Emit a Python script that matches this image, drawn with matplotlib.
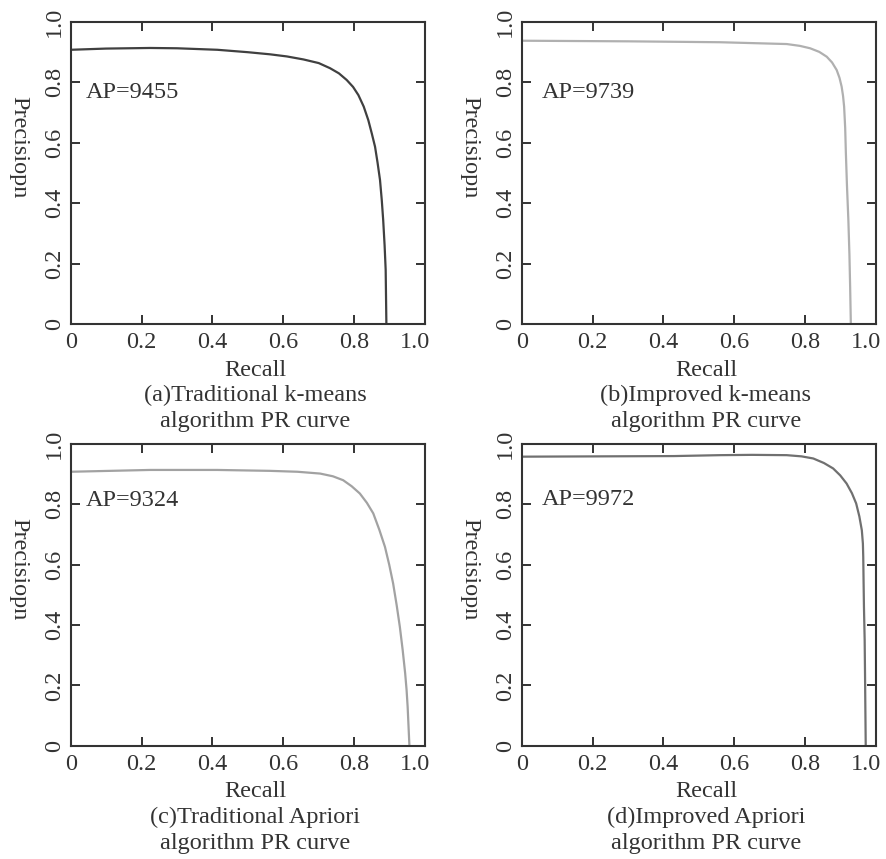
import matplotlib
matplotlib.use("Agg")
import matplotlib.pyplot as plt
import matplotlib.transforms as mtransforms

plt.rcParams['font.family'] = ['Liberation Serif', 'DejaVu Serif']

# ---- data ----
tick_vals = [0, 0.2, 0.4, 0.6, 0.8, 1.0]
tick_labels = ["0", "0.2", "0.4", "0.6", "0.8", "1.0"]

recall_a = [0.0, 0.10, 0.224, 0.30, 0.414, 0.50, 0.5625, 0.61, 0.657, 0.70, 0.732, 0.757, 0.779,
            0.797, 0.812, 0.827, 0.840, 0.850, 0.859, 0.866, 0.873, 0.878, 0.882, 0.886, 0.889, 0.890, 0.891]
prec_a   = [0.908, 0.912, 0.914, 0.913, 0.908, 0.900, 0.893, 0.886, 0.876, 0.864, 0.847, 0.830, 0.808,
            0.785, 0.758, 0.720, 0.675, 0.630, 0.587, 0.535, 0.477, 0.410, 0.344, 0.260, 0.179, 0.090, 0.0]

recall_b = [0.0, 0.30, 0.560, 0.748, 0.785, 0.814, 0.840, 0.861, 0.876, 0.889, 0.897, 0.903, 0.907,
            0.910, 0.913, 0.915, 0.918, 0.922, 0.925, 0.927, 0.929]
prec_b   = [0.938, 0.936, 0.933, 0.927, 0.921, 0.913, 0.901, 0.885, 0.866, 0.841, 0.815, 0.786, 0.755,
            0.720, 0.650, 0.565, 0.460, 0.344, 0.230, 0.124, 0.0]

recall_c = [0.0, 0.224, 0.414, 0.5625, 0.64, 0.704, 0.74, 0.769, 0.793, 0.816, 0.836, 0.854, 0.871,
            0.887, 0.899, 0.910, 0.920, 0.929, 0.937, 0.944, 0.948, 0.951, 0.956]
prec_c   = [0.908, 0.914, 0.914, 0.911, 0.908, 0.902, 0.893, 0.880, 0.860, 0.836, 0.805, 0.770, 0.716,
            0.659, 0.600, 0.538, 0.466, 0.394, 0.317, 0.240, 0.185, 0.129, 0.0]

recall_d = [0.0, 0.43, 0.560, 0.65, 0.748, 0.79, 0.823, 0.853, 0.879, 0.899, 0.917, 0.932, 0.944,
            0.953, 0.960, 0.963, 0.964, 0.965, 0.966, 0.968, 0.969, 0.970, 0.971]
prec_d   = [0.958, 0.960, 0.963, 0.964, 0.963, 0.959, 0.952, 0.937, 0.919, 0.896, 0.869, 0.837, 0.803,
            0.760, 0.714, 0.670, 0.626, 0.540, 0.460, 0.350, 0.240, 0.120, 0.0]

ap_texts = ["AP=9455", "AP=9739", "AP=9324", "AP=9972"]
captions = ["(a)Traditional k-means\nalgorithm PR curve",
            "(b)Improved k-means\nalgorithm PR curve",
            "(c)Traditional Apriori\nalgorithm PR curve",
            "(d)Improved Apriori\nalgorithm PR curve"]
colors = ["#404040", "#b0b0b0", "#a2a2a2", "#707070"]

series = [(recall_a, prec_a), (recall_b, prec_b), (recall_c, prec_c), (recall_d, prec_d)]

# ---- layout ----
W, H = 886, 859
fig = plt.figure(figsize=(W / 100, H / 100), dpi=100)

frames = [(70.7, 22, 425, 324), (521.7, 22, 876, 324),
          (70.7, 444, 425, 745.7), (521.7, 444, 876, 745.7)]
ap_pos = [(0.043, 0.765), (0.056, 0.765), (0.043, 0.814), (0.056, 0.817)]

fs = 17.5
tc = '#333333'
for i, (l, t, r, b) in enumerate(frames):
    ax = fig.add_axes([l / W, 1 - b / H, (r - l) / W, (b - t) / H])
    x, y = series[i]
    ax.plot(x, y, color=colors[i], lw=1.6, solid_joinstyle='round')
    ax.set_xlim(0, 1)
    ax.set_ylim(0, 1)
    ax.set_xticks(tick_vals)
    ax.set_xticklabels(tick_labels)
    ax.set_yticks(tick_vals)
    ax.set_yticklabels(tick_labels, rotation=90, va='center')
    ax.tick_params(direction='in', length=6.5, width=1.4, top=True, right=True,
                   labelsize=fs, colors=tc)
    ax.tick_params(axis='x', pad=6)
    ax.tick_params(axis='y', pad=4)
    # shift last x tick label a little inward, as in the reference
    lbl = ax.get_xticklabels()[-1]
    lbl.set_transform(lbl.get_transform() +
                      mtransforms.ScaledTranslation(-10 / 100, 0, fig.dpi_scale_trans))
    for s in ax.spines.values():
        s.set_linewidth(1.5)
        s.set_color(tc)
    ax.set_xlabel("Recall", fontsize=fs, color=tc)
    ax.set_ylabel("Precisiopn", fontsize=fs, color=tc, rotation=270, va='center')
    ax.yaxis.set_label_coords(-0.146, 0.586)
    ax.xaxis.set_label_coords(0.52, -0.118)
    ax.text(ap_pos[i][0], ap_pos[i][1], ap_texts[i], transform=ax.transAxes,
            fontsize=fs, color=tc, va='center', ha='left')
    ax.text(0.52, -0.28, captions[i], transform=ax.transAxes, fontsize=fs,
            color=tc, ha='center', va='center', linespacing=1.3)

fig.savefig("out.png", dpi=100, facecolor='white')
